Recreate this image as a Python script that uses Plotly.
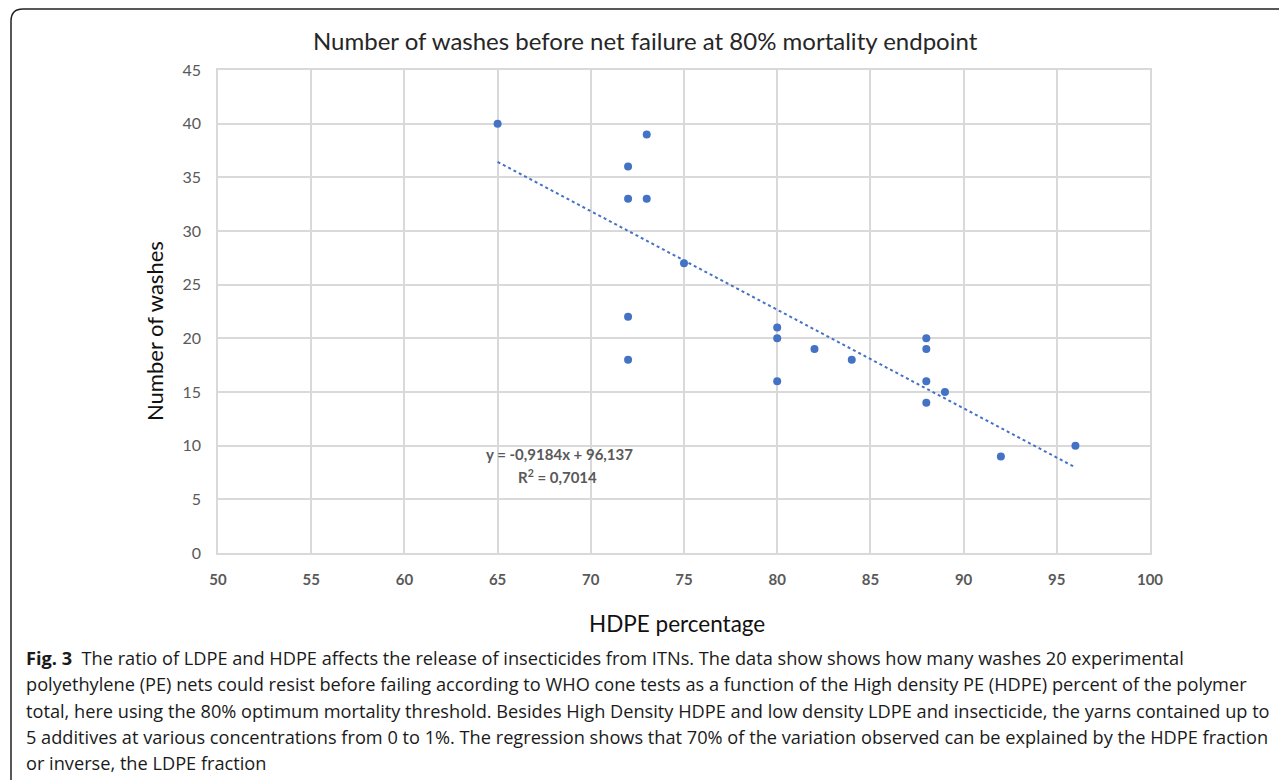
import numpy as np
import plotly.graph_objects as go

# ---- data ----
hdpe_pct = [65, 72, 72, 73, 73, 75, 72, 72, 80, 80, 80, 82, 84, 88, 88, 88, 88, 89, 92, 96]
washes   = [40, 36, 33, 39, 33, 27, 22, 18, 21, 20, 16, 19, 18, 20, 19, 16, 14, 15, 9, 10]
x_ticks = [50, 55, 60, 65, 70, 75, 80, 85, 90, 95, 100]
y_ticks = [0, 5, 10, 15, 20, 25, 30, 35, 40, 45]
slope, intercept, r2 = -0.9184, 96.137, 0.7014

title_text = "Number of washes before net failure at 80% mortality endpoint"
x_title = "HDPE percentage"
y_title = "Number of washes"
caption_lines = [
    "<b>Fig. 3</b>  The ratio of LDPE and HDPE affects the release of insecticides from ITNs. The data show shows how many washes 20 experimental",
    "polyethylene (PE) nets could resist before failing according to WHO cone tests as a function of the High density PE (HDPE) percent of the polymer",
    "total, here using the 80% optimum mortality threshold. Besides High Density HDPE and low density LDPE and insecticide, the yarns contained up to",
    "5 additives at various concentrations from 0 to 1%. The regression shows that 70% of the variation observed can be explained by the HDPE fraction",
    "or inverse, the LDPE fraction",
]

OFF = 8  # page body margin
W, H = 1287 - OFF, 780 - OFF
L, R, T, B = 218, 1150, 70, 553   # plot area in screenshot pixels
PW, PH = R - L, B - T

def px(x):
    return (x - L) / PW

def py(y):
    return (B - y) / PH

BLUE = "#4472C4"
GRID = "#d9d9d9"
TICK = "#595959"
CHART_FONT = "Lato, Open Sans, sans-serif"
CAP_FONT = "Open Sans, Noto Sans, sans-serif"

fig = go.Figure()

fig.add_trace(go.Scatter(
    x=hdpe_pct, y=washes, mode="markers",
    marker=dict(color=BLUE, size=8),
    showlegend=False, hoverinfo="x+y",
))

xl = np.array([min(hdpe_pct), max(hdpe_pct)], dtype=float)
fig.add_trace(go.Scatter(
    x=xl, y=slope * xl + intercept, mode="lines",
    line=dict(color=BLUE, width=2, dash="dot"),
    showlegend=False, hoverinfo="skip",
))

fig.update_xaxes(
    range=[50, 100], tickvals=x_ticks, ticktext=[f"<b>{v}</b>" for v in x_ticks],
    showgrid=True, gridcolor=GRID, gridwidth=1.5,
    showline=True, linecolor=GRID, linewidth=1.5, mirror=True,
    zeroline=False, ticks="", ticklabelstandoff=12,
    tickfont=dict(family=CHART_FONT, size=15, color=TICK),
)
fig.update_yaxes(
    range=[0, 45], tickvals=y_ticks,
    showgrid=True, gridcolor=GRID, gridwidth=1.5,
    showline=True, linecolor=GRID, linewidth=1.5, mirror=True,
    zeroline=False, ticks="", ticklabelstandoff=12,
    tickfont=dict(family=CHART_FONT, size=16, color=TICK),
)

ann = []
ann.append(dict(text=title_text, x=px(645), y=py(40), xref="paper", yref="paper",
                showarrow=False, xanchor="center", yanchor="middle",
                font=dict(family=CHART_FONT, size=24, color="#262626")))
ann.append(dict(text=x_title, x=px(677), y=py(623), xref="paper", yref="paper",
                showarrow=False, xanchor="center", yanchor="middle",
                font=dict(family=CHART_FONT, size=22.5, color="#111111")))
ann.append(dict(text=y_title, x=px(154), y=py(331), xref="paper", yref="paper",
                showarrow=False, xanchor="center", yanchor="middle", textangle=-90,
                font=dict(family=CHART_FONT, size=22, color="#111111")))
ann.append(dict(text=f"<b>y = {slope:.4f}x + {intercept:.3f}</b>".replace(".", ","),
                x=px(559), y=py(454), xref="paper", yref="paper",
                showarrow=False, xanchor="center", yanchor="middle",
                font=dict(family=CHART_FONT, size=15, color=TICK)))
ann.append(dict(text=f"<b>R<sup>2</sup> = {r2:.4f}</b>".replace(".", ","),
                x=px(557), y=py(476), xref="paper", yref="paper",
                showarrow=False, xanchor="center", yanchor="middle",
                font=dict(family=CHART_FONT, size=15, color=TICK)))
for i, line in enumerate(caption_lines):
    ann.append(dict(text=line, x=px(24), y=py(658 + i * 26.3), xref="paper", yref="paper",
                    showarrow=False, xanchor="left", yanchor="middle",
                    font=dict(family=CAP_FONT, size=18.2, color="#1a1a1a")))

# frame with rounded top-left corner
r = 12
x0, y0 = 11, 9
path = (f"M {px(W+OFF+5)},{py(y0)} L {px(x0+r)},{py(y0)} "
        f"Q {px(x0)},{py(y0)} {px(x0)},{py(y0+r)} L {px(x0)},{py(H+OFF+5)}")
shapes = [dict(type="path", path=path, xref="paper", yref="paper",
               line=dict(color="#222222", width=1.5))]

fig.update_layout(
    width=W, height=H,
    margin=dict(l=L - OFF, r=W + OFF - R, t=T - OFF, b=H + OFF - B),
    paper_bgcolor="white", plot_bgcolor="white",
    annotations=ann, shapes=shapes,
)

fig.write_html("out.html")
